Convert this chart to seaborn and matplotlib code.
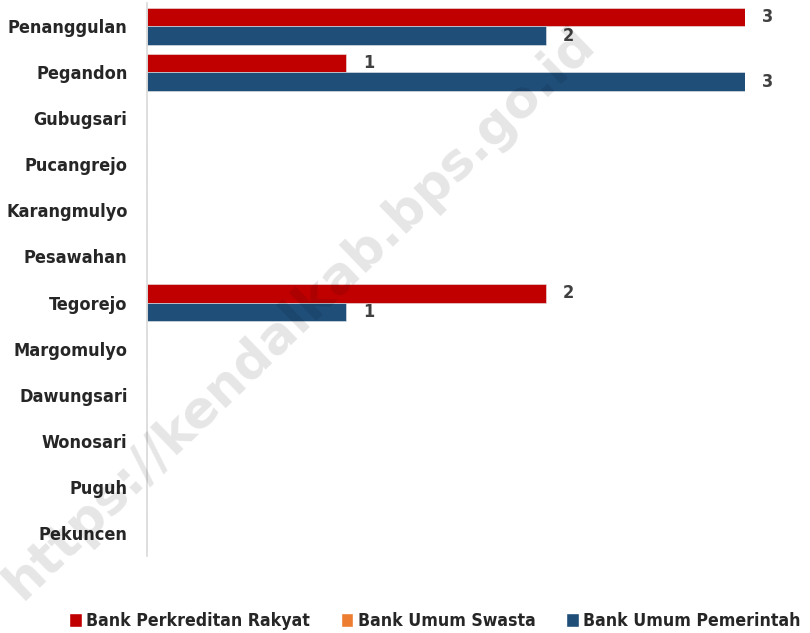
import numpy as np
import pandas as pd
import matplotlib
matplotlib.use("Agg")
import matplotlib.pyplot as plt
from matplotlib.patches import Patch
import seaborn as sns

desa = ["Penanggulan", "Pegandon", "Gubugsari", "Pucangrejo", "Karangmulyo",
        "Pesawahan", "Tegorejo", "Margomulyo", "Dawungsari", "Wonosari",
        "Puguh", "Pekuncen"]
bpr = [3, 1, 0, 0, 0, 0, 2, 0, 0, 0, 0, 0]
swasta = [0, 0, 0, 0, 0, 0, 0, 0, 0, 0, 0, 0]
pemerintah = [2, 3, 0, 0, 0, 0, 1, 0, 0, 0, 0, 0]

series = ["Bank Perkreditan Rakyat", "Bank Umum Swasta", "Bank Umum Pemerintah"]
colors = {"Bank Perkreditan Rakyat": "#C00000",
          "Bank Umum Swasta": "#ED7D31",
          "Bank Umum Pemerintah": "#1F4E79"}

df = pd.DataFrame({
    "desa": desa * 3,
    "bank": [series[0]] * len(desa) + [series[1]] * len(desa) + [series[2]] * len(desa),
    "jumlah": bpr + swasta + pemerintah,
})
# Swasta has no banks at all, so only the two filled series get bar slots
plot_df = df[df["bank"] != series[1]]

sns.set_style("white")
plt.rcParams["font.family"] = ["DejaVu Sans"]

fig = plt.figure(figsize=(8.1, 6.33), dpi=100)
ax = fig.add_axes([0.1815, 0.1224, 0.7383, 0.8721])

sns.barplot(data=plot_df, y="desa", x="jumlah", hue="bank",
            hue_order=[series[0], series[2]], order=desa,
            palette=colors, saturation=1, width=0.8, orient="h", ax=ax,
            legend=False, edgecolor="#E8E8E8", linewidth=0.4)

for cont in ax.containers:
    labels = ["" if v.get_width() == 0 else f"{v.get_width():.0f}" for v in cont]
    ax.bar_label(cont, labels=labels, padding=12, fontsize=13, fontweight="bold",
                 color="#404040", fontstretch="condensed", clip_on=False)

ax.set_xlim(0, 3)
ax.set_xlabel("")
ax.set_ylabel("")
ax.set_xticks([])
ax.tick_params(axis="y", length=0, pad=14)
for lab in ax.get_yticklabels():
    lab.set_fontweight("bold")
    lab.set_fontsize(13)
    lab.set_fontstretch("condensed")
for side in ["top", "right", "bottom"]:
    ax.spines[side].set_visible(False)
ax.spines["left"].set_color("#D9D9D9")
ax.spines["left"].set_linewidth(1.2)

handles = [Patch(facecolor=colors[s], label=s) for s in series]
fig.legend(handles=handles, loc="lower center", bbox_to_anchor=(0.537, -0.02),
           ncol=3, frameon=False, handlelength=0.7, handleheight=0.85,
           handletextpad=0.25, columnspacing=1.75,
           prop={"weight": "bold", "size": 12.7, "stretch": "condensed"})

# watermark
fig.text(0.37, 0.505, "https://kendalkab.bps.go.id", rotation=44,
         ha="center", va="center", fontsize=37, fontweight="bold",
         color="black", alpha=0.1, zorder=10)

fig.savefig("out.png", dpi=100)
plt.close(fig)
